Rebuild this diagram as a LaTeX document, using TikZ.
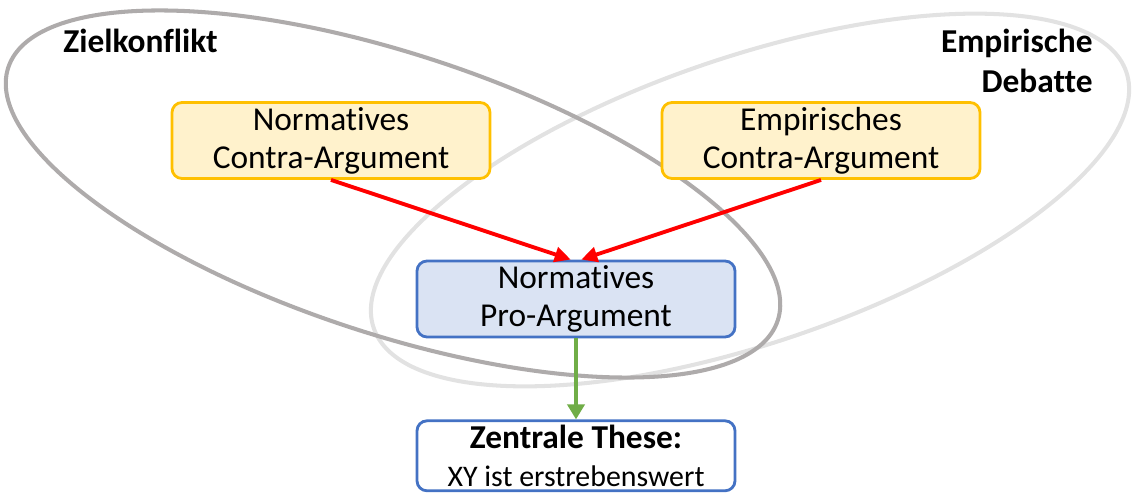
\documentclass[tikz,border=0pt]{standalone}
\usepackage{fontspec}
\setmainfont{Carlito}[Ligatures=NoCommon]
\usetikzlibrary{arrows.meta,positioning}

\definecolor{goldrand}{HTML}{FFC000}
\definecolor{goldfill}{HTML}{FFF2CC}
\definecolor{blaurand}{HTML}{4472C4}
\definecolor{blaufill}{HTML}{DAE3F3}
\definecolor{pfeilrot}{HTML}{FF0000}
\definecolor{pfeilgruen}{HTML}{70AD47}
\definecolor{zielgrau}{HTML}{AEABAB}
\definecolor{debattegrau}{HTML}{E2E2E2}

\begin{document}
\begin{tikzpicture}[
  every node/.style={font=\fontsize{19}{21.6}\selectfont, align=center},
  kasten/.style={draw, rounded corners=0.2cm, line width=1.6pt, minimum width=6.36cm, minimum height=1.52cm, inner sep=0pt},
  contra/.style={kasten, draw=goldrand, fill=goldfill},
  pro/.style={kasten, draw=blaurand, fill=blaufill},
  these/.style={kasten, draw=blaurand, fill=white, minimum height=1.4cm},
  titel/.style={font=\fontsize{19}{22.7}\selectfont\bfseries, inner sep=0pt},
  gegen/.style={draw=pfeilrot, line width=2.2pt, -{Triangle[length=0.32cm, width=0.3cm]}},
  stuetzt/.style={draw=pfeilgruen, line width=2.2pt, -{Triangle[length=0.3cm, width=0.34cm]}},
  kreis/.style={line width=2.3pt}
]
\useasboundingbox (0,0) rectangle (22.7,9.84);

% die beiden Debatten
\draw[kreis, draw=debattegrau, rotate around={18.8:(15.0,5.84)}] (15.0,5.84) ellipse [x radius=7.95cm, y radius=2.86cm];
\draw[kreis, draw=zielgrau, rotate around={-18.2:(7.86,5.96)}] (7.86,5.96) ellipse [x radius=8.1cm, y radius=2.8cm];

\node[titel, anchor=base west] (zk) at (1.26,8.78) {Zielkonflikt};
\node[titel, anchor=north east, align=right] (ed) at (21.86,9.26) {Empirische\\Debatte};

% Argumente
\node[contra] (nc) at (6.62,7.03) {Normatives\\Contra-Argument};
\node[contra] (ec) at (16.42,7.03) {Empirisches\\Contra-Argument};
\node[pro] (np) at (11.52,3.86) {Normatives\\Pro-Argument};
\node[these, below=1.62cm of np] (zt) {{\fontsize{19}{21}\selectfont\bfseries Zentrale These:}\\{\fontsize{17}{21}\selectfont XY ist erstrebenswert}};

\draw[gegen] (nc.south) -- ([xshift=-3pt]np.north);
\draw[gegen] (ec.south) -- ([xshift=3pt]np.north);
\draw[stuetzt] (np.south) -- (zt.north);
\end{tikzpicture}
\end{document}
